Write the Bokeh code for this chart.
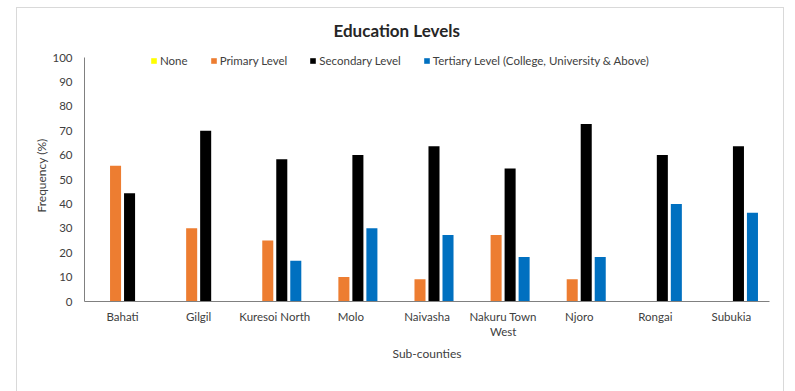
from bokeh.plotting import figure
from bokeh.models import ColumnDataSource, FactorRange, Legend, LegendItem, SingleIntervalTicker, Range1d
from bokeh.transform import dodge
from bokeh.embed import file_html
from bokeh.resources import INLINE

categories = ["Bahati", "Gilgil", "Kuresoi North", "Molo", "Naivasha",
              "Nakuru Town\nWest", "Njoro", "Rongai", "Subukia"]
none_vals = [0, 0, 0, 0, 0, 0, 0, 0, 0]
primary_vals = [55.6, 30.0, 25.0, 10.0, 9.1, 27.3, 9.1, 0, 0]
secondary_vals = [44.4, 70.0, 58.3, 60.0, 63.6, 54.5, 72.7, 60.0, 63.6]
tertiary_vals = [0, 0, 16.7, 30.0, 27.3, 18.2, 18.2, 40.0, 36.4]
series_names = ["None", "Primary Level", "Secondary Level",
                "Tertiary Level (College, University & Above)"]
colors = ["#FFFF00", "#ED7D31", "#000000", "#0070C0"]

src = ColumnDataSource(dict(cat=categories, none=none_vals, primary=primary_vals,
                            secondary=secondary_vals, tertiary=tertiary_vals))

FONT = "Lato"
TXT = "#404040"

p = figure(x_range=FactorRange(*categories), y_range=Range1d(0, 103.28),
           width=795, height=391, output_backend="svg", toolbar_location=None,
           min_border_left=84, min_border_right=26, min_border_top=49, min_border_bottom=90,
           title="Education Levels")
p.outline_line_color = None
p.xgrid.grid_line_color = None
p.ygrid.grid_line_color = None
p.background_fill_alpha = 0
p.border_fill_alpha = 0
line = "linear-gradient(#D9D9D9,#D9D9D9)"
p.styles = {
    "background": (f"{line} 16px 7px / 1px 384px no-repeat, "
                   f"{line} 783px 7px / 1px 384px no-repeat, "
                   f"{line} 16px 7px / 768px 1px no-repeat, white"),
}

p.title.text_font = FONT
p.title.text_font_size = "17px"
p.title.text_font_style = "bold"
p.title.text_color = "#262626"
p.title.align = "left"
p.title.offset = 249
p.title.standoff = 18

offsets = [-0.276, -0.092, 0.092, 0.276]
fields = ["none", "primary", "secondary", "tertiary"]
renderers = []
for f, off, c in zip(fields, offsets, colors):
    r = p.vbar(x=dodge("cat", off, range=p.x_range), top=f, width=0.145,
               source=src, fill_color=c, line_color=None)
    renderers.append(r)

legend = Legend(items=[LegendItem(label=n, renderers=[r]) for n, r in zip(series_names, renderers)],
                orientation="horizontal", location=(66, 234),
                padding=0, margin=0, spacing=22, label_standoff=3,
                glyph_width=7, glyph_height=7, label_height=14,
                border_line_alpha=0, background_fill_alpha=0,
                label_text_font=FONT, label_text_font_size="11.5px", label_text_color=TXT)
p.add_layout(legend)

# axes
p.yaxis.ticker = SingleIntervalTicker(interval=10)
p.yaxis.bounds = (0, 100)
for ax in (p.xaxis, p.yaxis):
    ax.major_tick_line_color = None
    ax.minor_tick_line_color = None
    ax.axis_line_color = "#808080"
    ax.major_label_text_font = FONT
    ax.major_label_text_font_size = "11.5px"
    ax.major_label_text_color = TXT
    ax.axis_label_text_font = FONT
    ax.axis_label_text_font_size = "12px"
    ax.axis_label_text_font_style = "normal"
    ax.axis_label_text_color = TXT
p.yaxis.major_label_standoff = 6
p.yaxis.axis_label = "Frequency (%)"
p.yaxis.axis_label_standoff = 0
p.xaxis.major_label_standoff = 2
p.xaxis.axis_label = "Sub-counties"
p.xaxis.axis_label_standoff = 5

open("out.html", "w").write(file_html(p, INLINE))
